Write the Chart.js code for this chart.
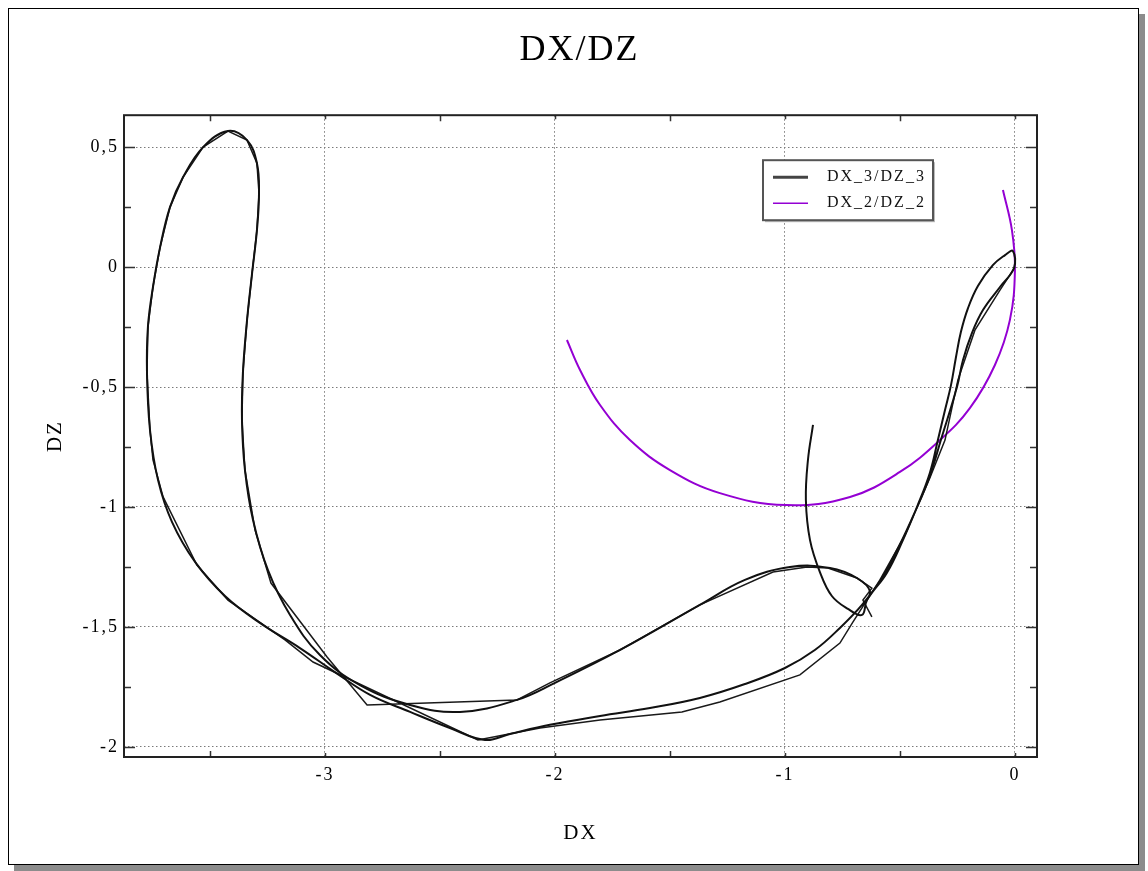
<!DOCTYPE html>
<html>
<head>
<meta charset="utf-8">
<script src="https://cdn.jsdelivr.net/npm/chart.js@4.4.0/dist/chart.umd.min.js"></script>
<style>
    html, body { margin: 0; padding: 0; background: #fff; }
    #card {
        position: absolute; left: 8px; top: 8px;
        width: 1129px; height: 855px;
        border: 1px solid #000; background: #fff;
        box-shadow: 6px 6px 0 #8c8c8c;
    }
    canvas { display: block; }
</style>
</head>
<body>
<div id="card"><canvas id="chart" width="1129" height="855"></canvas></div>
<script>
// DX_3 / DZ_3, dense pass (hook + one loop)
const dx3Smooth = [-0.878, -0.900, -0.909, -0.891, -0.848, -0.796, -0.726, -0.665,
    -0.643, -0.557, -0.487, -0.426, -0.370, -0.335, -0.304, -0.278, -0.257, -0.235, -0.204, -0.161, -0.096, -0.043, -0.009,
    -0.004, -0.065, -0.139, -0.187, -0.226, -0.252, -0.322, -0.370, -0.435, -0.504, -0.578, -0.665, -0.761,
    -0.870, -1.000, -1.174, -1.370, -1.587, -1.804, -2.022, -2.196, -2.304, -2.457, -2.630, -2.804,
    -2.957, -3.109, -3.283, -3.435, -3.565, -3.665, -3.726, -3.761, -3.774, -3.770, -3.748, -3.717,
    -3.674, -3.617, -3.530, -3.422, -3.339, -3.296, -3.287, -3.296, -3.317, -3.339, -3.357, -3.361,
    -3.348, -3.313, -3.248, -3.152, -3.022, -2.848, -2.630, -2.413, -2.165, -2.000, -1.717, -1.370,
    -1.174, -0.978, -0.804, -0.687, -0.630, -0.665];
const dz3Smooth = [-0.658, -0.804, -0.971, -1.138, -1.271, -1.371, -1.425, -1.450,
    -1.388, -1.275, -1.138, -1.000, -0.858, -0.721, -0.596, -0.492, -0.379, -0.271, -0.171, -0.079, 0.008, 0.050, 0.067,
    -0.004, -0.083, -0.179, -0.275, -0.388, -0.500, -0.721, -0.871, -1.021, -1.163, -1.296, -1.408, -1.504,
    -1.596, -1.671, -1.738, -1.796, -1.838, -1.871, -1.908, -1.946, -1.971, -1.921, -1.854, -1.783,
    -1.688, -1.588, -1.483, -1.371, -1.229, -1.063, -0.888, -0.679, -0.442, -0.250, -0.083, 0.083,
    0.250, 0.375, 0.500, 0.567, 0.529, 0.433, 0.308, 0.154, -0.025, -0.221, -0.442, -0.638,
    -0.846, -1.054, -1.263, -1.450, -1.617, -1.742, -1.825, -1.854, -1.804, -1.733, -1.596, -1.408,
    -1.304, -1.250, -1.254, -1.296, -1.354, -1.412];

// DX_3 / DZ_3, sparse pass (polygonal second loop)
const dx3Coarse = [0, -0.065, -0.174, -0.248, -0.304, -0.370, -0.478, -0.587, -0.704, -0.761,
    -0.935, -1.283, -1.448, -1.804, -2.065, -2.335, -3.052, -3.174, -3.422, -3.557, -3.704,
    -3.748, -3.761, -3.774, -3.770, -3.748, -3.717, -3.674, -3.617, -3.530, -3.422, -3.339,
    -3.296, -3.287, -3.296, -3.317, -3.339, -3.357, -3.361, -3.348, -3.304, -3.235, -2.991,
    -2.817, -2.165, -2.022, -1.717, -1.370, -1.052, -0.904, -0.813, -0.687, -0.622, -0.661, -0.622];
const dz3Coarse = [0, -0.096, -0.263, -0.471, -0.721, -0.879, -1.117, -1.304, -1.479, -1.567,
    -1.700, -1.813, -1.854, -1.888, -1.921, -1.971, -1.646, -1.554, -1.388, -1.242, -0.958,
    -0.804, -0.679, -0.442, -0.250, -0.083, 0.083, 0.250, 0.375, 0.500, 0.567, 0.529,
    0.433, 0.308, 0.154, -0.025, -0.221, -0.442, -0.638, -0.846, -1.096, -1.317, -1.625,
    -1.825, -1.804, -1.733, -1.596, -1.408, -1.271, -1.250, -1.254, -1.296, -1.338, -1.388, -1.458];

// DX_2 / DZ_2
const dx2 = [-1.948, -1.891, -1.804, -1.674, -1.500, -1.283, -0.996, -0.717, -0.500, -0.326,
    -0.196, -0.087, -0.022, 0, -0.013, -0.052];
const dz2 = [-0.304, -0.429, -0.575, -0.721, -0.846, -0.942, -0.992, -0.958, -0.854, -0.721,
    -0.588, -0.408, -0.221, -0.013, 0.154, 0.321];

const xTicks = [-3, -2, -1, 0];
const yTicks = [0.5, 0, -0.5, -1, -1.5, -2];
const xMinor = [-3.5, -2.5, -1.5, -0.5];
const yMinor = [0.25, -0.25, -0.75, -1.25, -1.75];

const zip = (xs, ys) => xs.map((x, i) => ({ x: x, y: ys[i] }));
const fmt = v => String(v).replace('.', ',');
const serif = '"Liberation Serif", "DejaVu Serif", serif';

// the original output has its text spread a little wider
const spacingPlugin = {
    id: 'spacing',
    beforeUpdate(chart) { chart.ctx.letterSpacing = '2px'; },
    beforeDraw(chart) { chart.ctx.letterSpacing = '2px'; }
};

// frame, tick marks and legend box
const framePlugin = {
    id: 'frame',
    afterDraw(chart) {
        const ctx = chart.ctx;
        const a = chart.chartArea;
        const xs = chart.scales.x, ys = chart.scales.y;
        ctx.save();
        ctx.strokeStyle = '#333';
        ctx.lineWidth = 1.5;
        ctx.beginPath();
        yTicks.concat(yMinor).forEach(v => {
            const py = Math.round(ys.getPixelForValue(v)) + 0.5;
            const len = yTicks.includes(v) ? 11 : 7;
            ctx.moveTo(a.left, py); ctx.lineTo(a.left + len, py);
            ctx.moveTo(a.right, py); ctx.lineTo(a.right - len, py);
        });
        xTicks.concat(xMinor).forEach(v => {
            const px = Math.round(xs.getPixelForValue(v)) + 0.5;
            const len = xTicks.includes(v) ? 4 : 6;
            ctx.moveTo(px, a.top); ctx.lineTo(px, a.top + len);
            ctx.moveTo(px, a.bottom); ctx.lineTo(px, a.bottom - len);
        });
        ctx.stroke();

        ctx.strokeStyle = '#222';
        ctx.lineWidth = 2;
        ctx.strokeRect(a.left, a.top, a.right - a.left, a.bottom - a.top);

        // legend
        const items = chart.data.datasets.filter(d => !d.noLegend);
        const bx = a.left + 639, by = a.top + 45, bw = 170, bh = 60;
        ctx.fillStyle = '#bbb';
        ctx.fillRect(bx + 2, by + 2, bw, bh);
        ctx.fillStyle = '#fff';
        ctx.fillRect(bx, by, bw, bh);
        ctx.strokeStyle = '#555';
        ctx.lineWidth = 2;
        ctx.strokeRect(bx, by, bw, bh);
        ctx.font = '16px ' + serif;
        ctx.textBaseline = 'middle';
        items.forEach((d, i) => {
            const cy = by + 17 + i * 26;
            ctx.strokeStyle = d.legendColor || d.borderColor;
            ctx.lineWidth = d.legendWidth || d.borderWidth;
            ctx.beginPath();
            ctx.moveTo(bx + 10, cy); ctx.lineTo(bx + 45, cy);
            ctx.stroke();
            ctx.fillStyle = '#111';
            ctx.fillText(d.label, bx + 64, cy);
        });
        ctx.restore();
    }
};

new Chart(document.getElementById('chart'), {
    type: 'scatter',
    data: {
        datasets: [
            {
                label: 'DX_3/DZ_3',
                data: zip(dx3Smooth, dz3Smooth),
                showLine: true, borderColor: '#111', borderWidth: 2,
                legendColor: '#444', legendWidth: 3,
                pointRadius: 0, tension: 0.4
            },
            {
                label: 'DX_3/DZ_3 (b)',
                data: zip(dx3Coarse, dz3Coarse),
                showLine: true, borderColor: '#1a1a1a', borderWidth: 1.5,
                pointRadius: 0, tension: 0, noLegend: true
            },
            {
                label: 'DX_2/DZ_2',
                data: zip(dx2, dz2),
                showLine: true, borderColor: '#9400d3', borderWidth: 2,
                legendWidth: 1.6,
                pointRadius: 0, tension: 0.4
            }
        ]
    },
    options: {
        responsive: false,
        animation: false,
        layout: { padding: { left: 12, right: 0, top: 0, bottom: 0 } },
        plugins: {
            legend: { display: false },
            tooltip: { enabled: false },
            title: {
                display: true, text: 'DX/DZ', color: '#000',
                font: { family: serif, size: 36, weight: 'normal' },
                padding: { top: 20, bottom: 43 }
            }
        },
        scales: {
            x: {
                type: 'linear', min: -3.874, max: 0.096,
                afterBuildTicks: s => { s.ticks = xTicks.map(v => ({ value: v })); },
                afterFit: s => { s.height = 107; },
                ticks: { color: '#000', font: { family: serif, size: 18 }, padding: 7, callback: v => fmt(v) },
                grid: { color: '#7a7a7a', lineWidth: 1, drawTicks: false },
                border: { display: false, dash: [1.5, 2.5] },
                title: { display: true, text: 'DX', color: '#000', font: { family: serif, size: 21 }, padding: { top: 0, bottom: 18 } }
            },
            y: {
                type: 'linear', min: -2.042, max: 0.633,
                afterBuildTicks: s => { s.ticks = yTicks.map(v => ({ value: v })); },
                afterFit: s => { s.width = 103; },
                ticks: { color: '#000', font: { family: serif, size: 18 }, padding: 5, callback: v => fmt(v) },
                grid: { color: '#7a7a7a', lineWidth: 1, drawTicks: false },
                border: { display: false, dash: [1.5, 2.5] },
                title: { display: true, text: 'DZ', color: '#000', font: { family: serif, size: 21 }, padding: { top: 22, bottom: 0 } }
            },
            // empty right margin beside the plot
            yRight: {
                type: 'linear', position: 'right', min: -2.042, max: 0.633,
                afterFit: s => { s.width = 101; },
                ticks: { display: false },
                grid: { display: false },
                border: { display: false }
            }
        }
    },
    plugins: [spacingPlugin, framePlugin]
});
</script>
</body>
</html>
